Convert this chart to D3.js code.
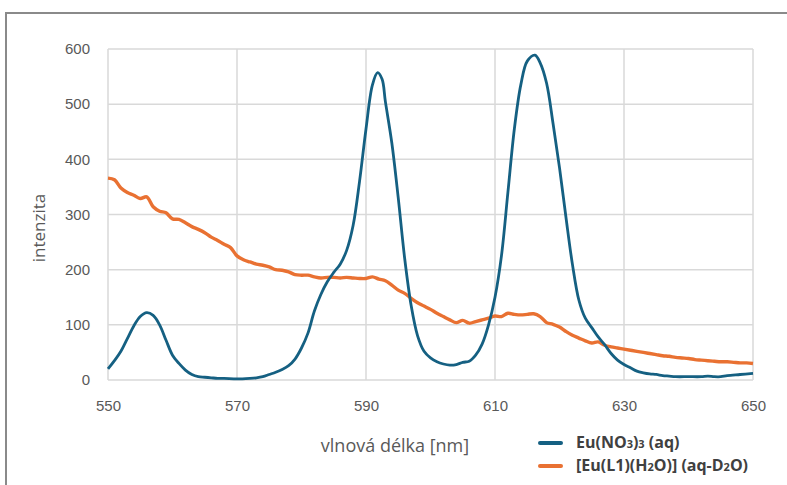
<!DOCTYPE html>
<html><head><meta charset="utf-8">
<script src="https://cdn.jsdelivr.net/npm/d3@7"></script>
<style>
body{margin:0;background:#fff;}
svg{display:block;}
</style></head>
<body>
<svg id="chart" width="787" height="485"></svg>
<script>
const xTicks = [550, 570, 590, 610, 630, 650];
const yTicks = [0, 100, 200, 300, 400, 500, 600];
const seriesNames = ["Eu(NO3)3 (aq)", "[Eu(L1)(H2O)] (aq-D2O)"];
const blueX = [550,551,552,553,554,555,556,557,558,559,560,561,562,563,564,565,566,567,568,570,572,573,574,575,576,577,578,579,580,581,582,583,584,585,586,587,588,589,590,591,591.8,592.5,593,594,595,596,597,598,599,600,601,602,603,604,605,606,607,608,609,610,611,612,613,614,615,616.2,617,618,619,620,621,622,623,624,625,626,627,628,629,630,631,632,633,634,635,636,637,638,640,642,643,644,645,646,648,650];
const blueY = [20,35,52,75,98,115,122,117,100,72,45,30,18,10,6,5,4,3,3,2,3,4,6,10,14,19,26,38,58,85,125,155,178,195,210,235,280,360,455,535,557,545,505,430,330,220,135,80,52,40,33,29,27,28,32,34,45,65,100,150,225,340,455,535,578,589,575,538,465,385,295,210,145,112,95,78,64,48,36,28,22,16,13,11,10,8,7,6,6,6,7,6,6,8,10,12];
const orangeX = [550,551,552,553,554,555,556,557,558,559,560,561,562,563,564,565,566,567,568,569,570,571,572,573,574,575,576,577,578,579,580,581,582,583,584,585,586,587,588,589,590,591,592,593,594,595,596,597,598,599,600,601,602,603,604,605,606,607,608,609,610,611,612,613,614,615,616,617,618,619,620,621,622,623,624,625,626,627,628,629,630,631,632,633,634,635,636,637,638,639,640,641,642,643,644,645,646,647,648,649,650];
const orangeY = [366,363,348,340,335,329,332,314,306,303,292,291,285,278,273,267,259,253,246,240,225,218,214,210,208,205,200,199,196,191,190,190,187,185,186,186,185,186,185,184,184,187,183,180,172,163,157,148,140,134,128,121,115,109,104,108,103,106,109,112,116,115,121,119,118,119,120,115,104,101,96,88,81,76,71,67,69,63,60,58,56,54,52,50,48,46,44,43,41,40,39,37,36,35,34,33,33,32,31,31,30];
const colors = ["#156082", "#E97132"];

const svg = d3.select("#chart");
const x = d3.scaleLinear().domain([550, 650]).range([108, 753]);
const y = d3.scaleLinear().domain([0, 600]).range([380, 49]);

// outer frame
svg.append("path").attr("d","M6,487 L6,13 L790,13").attr("fill","none").attr("stroke","#8a8a8a").attr("stroke-width",2);

// gridlines
const g = svg.append("g");
g.selectAll(".vg").data(xTicks).join("line")
  .attr("x1", d=>x(d)).attr("x2", d=>x(d)).attr("y1", y(600)).attr("y2", y(0))
  .attr("stroke","#d9d9d9").attr("stroke-width",1.5);
g.selectAll(".hg").data(yTicks).join("line")
  .attr("x1", x(550)).attr("x2", x(650)).attr("y1", d=>y(d)).attr("y2", d=>y(d))
  .attr("stroke","#d9d9d9").attr("stroke-width",1.5);

// axes via d3
const xAxis = d3.axisBottom(x).tickValues(xTicks).tickSize(0).tickPadding(20);
const yAxis = d3.axisLeft(y).tickValues(yTicks).tickSize(0).tickPadding(18);
const gx = svg.append("g").attr("transform",`translate(0,${y(0)})`).call(xAxis);
const gy = svg.append("g").attr("transform",`translate(${x(550)},0)`).call(yAxis);
[gx, gy].forEach(a => {
  a.select(".domain").remove();
  a.selectAll("text").attr("fill","#595959").style("font-family","'Liberation Sans', Arial, sans-serif").style("font-size","15px");
});

// lines
const line = d3.line().x(d=>x(d[0])).y(d=>y(d[1]));
const blueData = blueX.map((v,i)=>[v, blueY[i]]);
const orangeData = orangeX.map((v,i)=>[v, orangeY[i]]);
svg.append("path").datum(orangeData).attr("d", line.curve(d3.curveCatmullRom.alpha(0.5)))
  .attr("fill","none").attr("stroke",colors[1]).attr("stroke-width",3.4).attr("stroke-linejoin","round");
svg.append("path").datum(blueData).attr("d", line.curve(d3.curveCatmullRom.alpha(0.5)))
  .attr("fill","none").attr("stroke",colors[0]).attr("stroke-width",2.8).attr("stroke-linejoin","round");

// axis titles
svg.append("text").attr("x", 395).attr("y", 452).attr("text-anchor","middle")
  .attr("fill","#595959").style("font-family","'Open Sans', Lato, sans-serif").style("font-size","18px")
  .text("vlnová délka [nm]");
svg.append("text").attr("transform","translate(45,228) rotate(-90)").attr("text-anchor","middle")
  .attr("fill","#595959").style("font-family","'Open Sans', Lato, sans-serif").style("font-size","17px")
  .text("intenzita");

// legend
const legend = svg.append("g").style("font-family","'Open Sans', Lato, sans-serif").style("font-size","16px").style("font-weight","bold").attr("fill","#404040");
const legY = [443, 466];
function addSub(t, parts){
  parts.forEach(p=>{
    const ts = t.append("tspan").text(p[0]);
    if(p[1]) ts.style("font-size","11px");
  });
}
[0,1].forEach(i=>{
  legend.append("line").attr("x1",540).attr("x2",561).attr("y1",legY[i]).attr("y2",legY[i])
    .attr("stroke",colors[i]).attr("stroke-width",4).attr("stroke-linecap","round");
  const t = legend.append("text").attr("x",576).attr("y",legY[i]+5);
  if(i===0) addSub(t, [["Eu(NO",0],["3",1],[")",0],["3",1],[" (aq)",0]]);
  else addSub(t, [["[Eu(L1)(H",0],["2",1],["O)] (aq-D",0],["2",1],["O)",0]]);
});
</script>
</body></html>
